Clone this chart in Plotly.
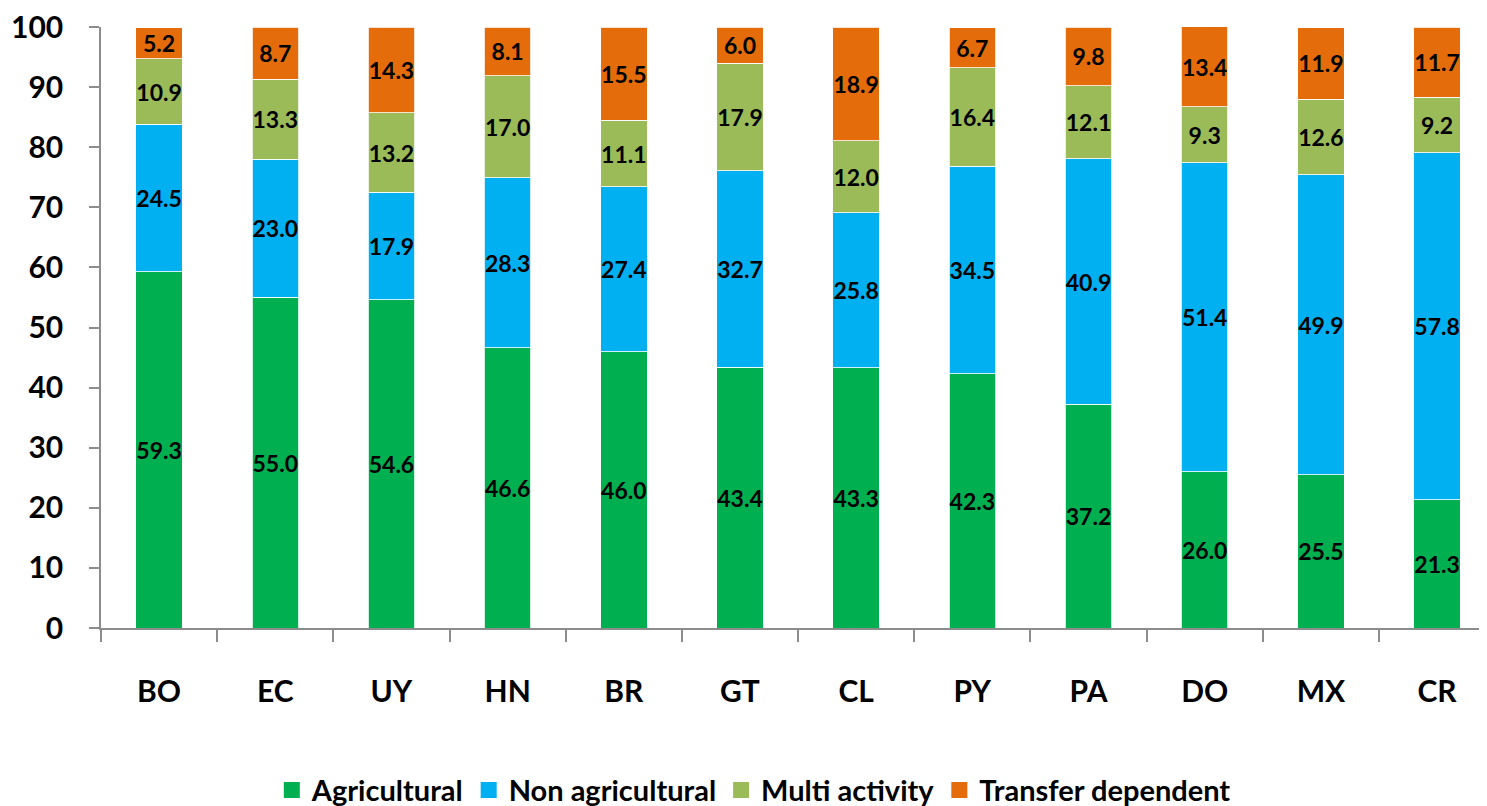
import plotly.graph_objects as go

countries = ["BO", "EC", "UY", "HN", "BR", "GT", "CL", "PY", "PA", "DO", "MX", "CR"]
agricultural = [59.3, 55.0, 54.6, 46.6, 46.0, 43.4, 43.3, 42.3, 37.2, 26.0, 25.5, 21.3]
non_agricultural = [24.5, 23.0, 17.9, 28.3, 27.4, 32.7, 25.8, 34.5, 40.9, 51.4, 49.9, 57.8]
multi_activity = [10.9, 13.3, 13.2, 17.0, 11.1, 17.9, 12.0, 16.4, 12.1, 9.3, 12.6, 9.2]
transfer_dependent = [5.2, 8.7, 14.3, 8.1, 15.5, 6.0, 18.9, 6.7, 9.8, 13.4, 11.9, 11.7]

series = [
    ("Agricultural", agricultural, "#00B050"),
    ("Non agricultural", non_agricultural, "#00B0F0"),
    ("Multi activity", multi_activity, "#9BBB59"),
    ("Transfer dependent", transfer_dependent, "#E46C0A"),
]

FONT = "Lato"

fig = go.Figure()
for name, vals, color in series:
    fig.add_trace(go.Bar(
        x=countries, y=vals, name=name, showlegend=False,
        marker=dict(color=color, line=dict(color="white", width=0.8)),
        texttemplate="%{y:.1f}", textposition="inside", insidetextanchor="middle",
        textangle=0, constraintext="none",
        insidetextfont=dict(family=FONT, size=23, color="black", weight="bold"),
        hoverinfo="skip",
    ))
# legend entries with larger square swatches
for name, vals, color in series:
    fig.add_trace(go.Scatter(
        x=[None], y=[None], mode="markers", name=name,
        marker=dict(symbol="square", size=17, color=color),
        hoverinfo="skip",
    ))

# the page body has an 8px margin, so the figure is sized/offset to compensate
fig.update_layout(
    barmode="stack", bargap=0.6,
    width=1479, height=798,
    margin=dict(l=93, r=0, t=19, b=178, autoexpand=False),
    paper_bgcolor="white", plot_bgcolor="white",
    font=dict(family=FONT, weight="bold", color="black"),
    uniformtext=dict(minsize=23, mode="show"),
    legend=dict(orientation="h", x=0.471, xanchor="center", y=-0.27, yanchor="middle",
                font=dict(family=FONT, size=29, weight="bold", color="black"),
                itemsizing="trace", tracegroupgap=0, traceorder="normal"),
    showlegend=True,
)
fig.update_xaxes(
    range=[-0.5, 11.43], showline=True, linecolor="#8C8C8C", linewidth=1.5,
    ticks="outside", tickson="boundaries", ticklen=12, tickcolor="#8C8C8C", tickwidth=1.5,
    tickfont=dict(family=FONT, size=30, weight="bold", color="black"),
    ticklabelstandoff=36, showgrid=False, zeroline=False, automargin=False,
    ticklabeloverflow="allow",
)
fig.update_yaxes(
    range=[0, 100], dtick=10, showline=True, linecolor="#8C8C8C", linewidth=1.5,
    ticks="outside", ticklen=10, tickcolor="#8C8C8C", tickwidth=1.5,
    tickfont=dict(family=FONT, size=30, weight="bold", color="black"),
    ticklabelstandoff=20, showgrid=False, zeroline=False, automargin=False,
    ticklabeloverflow="allow",
)

fig.write_html("out.html")
